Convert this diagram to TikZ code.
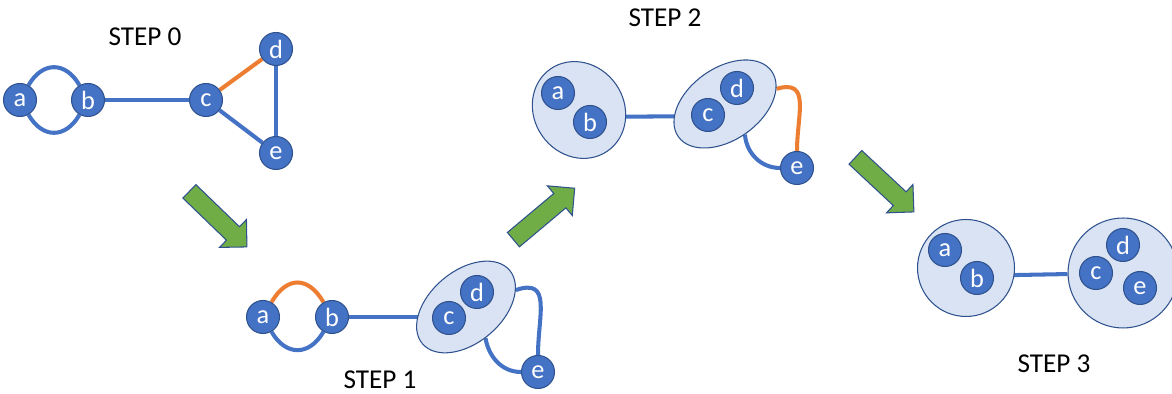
\documentclass[tikz,border=0pt]{standalone}
\usepackage{fontspec}
\setmainfont{Carlito}
\usetikzlibrary{shapes.geometric, shapes.arrows, backgrounds, calc}
\definecolor{nodeblue}{HTML}{4472C4}
\definecolor{rimblue}{HTML}{2F528F}
\definecolor{groupfill}{HTML}{DAE3F3}
\definecolor{linkorange}{HTML}{ED7D31}
\definecolor{arrowgreen}{HTML}{70AD47}
\tikzset{
        vertex/.style={circle, fill=nodeblue, draw=rimblue, line width=0.6pt, text=white, minimum size=0.66cm, inner sep=0pt, font=\fontsize{15}{15}\selectfont}, % the small lettered nodes
        group/.style={ellipse, fill=groupfill, draw=rimblue, line width=0.6pt, inner sep=0pt}, % merged nodes
        link/.style={line width=2.3pt, nodeblue}, % ordinary edges
        picked/.style={linkorange}, % the edge that is contracted next
        bigarrow/.style={single arrow, fill=arrowgreen, draw=rimblue, line width=0.6pt, inner xsep=0pt, inner ysep=0.177cm, single arrow head extend=0.2cm, single arrow tip angle=90, minimum height=1.6cm, anchor=tail}, % green arrows between the steps
        steplabel/.style={font=\fontsize{15.5}{16}\selectfont}, % step titles
    }
\begin{document}
\begin{tikzpicture}[x=0.02cm, y=0.02cm]
    \useasboundingbox (0,0) rectangle (1172,394);
    % step 0
    \node[steplabel] (t0) at (145,357) {STEP 0};
    \node[vertex] (a0) at (20,294) {a};
    \node[vertex] (b0) at (88,294) {b};
    \node[vertex] (c0) at (206,294) {c};
    \node[vertex] (d0) at (276,345) {d};
    \node[vertex] (e0) at (276,241) {e};
    % step 1
    \node[steplabel] (t1) at (380,14) {STEP 1};
    \node[vertex] (a1) at (263,77) {a};
    \node[vertex] (b1) at (332,77) {b};
    \node[group, rotate=40, minimum width=2.28cm, minimum height=1.44cm] (cd1) at (466,87) {};
    \node[vertex] (c1) at (449,76) {c};
    \node[vertex] (d1) at (477,102) {d};
    \node[vertex] (e1) at (538,22) {e};
    % step 2
    \node[steplabel] (t2) at (665,376) {STEP 2};
    \node[group, rotate=-55, minimum width=2cm, minimum height=1.8cm] (ab2) at (579,284) {};
    \node[vertex] (a2) at (558,301) {a};
    \node[vertex] (b2) at (590,272) {b};
    \node[group, rotate=35, minimum width=2.28cm, minimum height=1.44cm] (cd2) at (725,290) {};
    \node[vertex] (c2) at (708,279) {c};
    \node[vertex] (d2) at (737,306) {d};
    \node[vertex] (e2) at (797,226) {e};
    % step 3
    \node[steplabel] (t3) at (1054,30) {STEP 3};
    \node[group, minimum width=1.94cm, minimum height=1.94cm] (ab3) at (966,126) {};
    \node[vertex] (a3) at (945,144) {a};
    \node[vertex] (b3) at (977,116) {b};
    \node[group, minimum width=2.2cm, minimum height=2.2cm] (cde3) at (1123,121) {};
    \node[vertex] (c3) at (1096,121) {c};
    \node[vertex] (d3) at (1123,149) {d};
    \node[vertex] (e3) at (1140,106) {e};
    % arrows between the steps
    \node[bigarrow, rotate=-44] (go1) at (189,203) {};
    \node[bigarrow, rotate=40] (go2) at (513,154) {};
    \node[bigarrow, rotate=-43] (go3) at (855,237) {};
    \begin{scope}[on background layer]
    \draw[link]
      (a0) edge[out=60, in=120, looseness=1.4] (b0)
      (a0) edge[out=-60, in=-120, looseness=1.4] (b0)
      (b0) edge (c0)
      (c0) edge[picked] (d0)
      (d0) edge (e0)
      (c0) edge (e0)
      (a1) edge[picked, out=60, in=120, looseness=1.5] (b1)
      (a1) edge[out=-60, in=-120, looseness=1.4] (b1)
      (b1) edge (b1 -| cd1)
      (cd1) edge[out=-5, in=90, looseness=1.2] (e1)
      (cd1.-98) edge[out=-80, in=180] (e1)
      ($(ab2)+(0,-7)$) edge ($(cd2)+(0,-12)$)
      (cd2) edge[picked, out=-5, in=90, looseness=1.2] (e2)
      (cd2.-92) edge[out=-85, in=180] (e2)
      ($(ab3)+(0,-8)$) edge (cde3);
    \end{scope}
\end{tikzpicture}
\end{document}
